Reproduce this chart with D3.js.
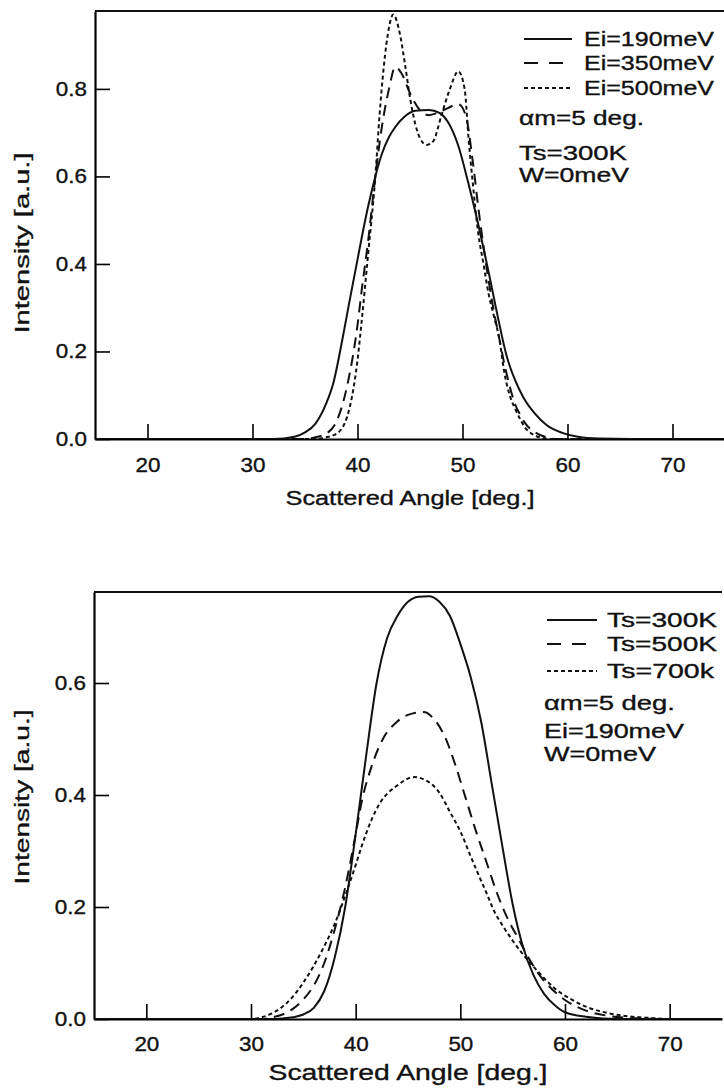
<!DOCTYPE html>
<html>
<head>
<meta charset="utf-8">
<script src="https://cdn.jsdelivr.net/npm/d3@7"></script>
<style>
  body { margin: 0; background: #fff; }
  svg { display: block; }
  text { font-family: "Liberation Sans", Arial, sans-serif; fill: #111; stroke: #111; stroke-width: 0.35px; }
</style>
</head>
<body>
<div id="chart"></div>
<script>
// tick values
const xTicks = [20, 30, 40, 50, 60, 70];
const topYTicks = [0, 0.2, 0.4, 0.6, 0.8];
const botYTicks = [0, 0.2, 0.4, 0.6];

// top panel: incident energy series [angle, intensity]
const ei190 = [[15,0],[32,0],[34,0.005],[35,0.015],[36,0.035],[37,0.08],[37.7,0.128],[38.5,0.22],[39.2,0.31],[40,0.41],[40.4,0.46],[41,0.53],[41.7,0.6],[42.3,0.65],[43,0.69],[43.6,0.713],[44.5,0.737],[45.5,0.75],[46.8,0.752],[47.8,0.745],[48.6,0.725],[49.6,0.67],[50.5,0.59],[51.5,0.49],[52.5,0.38],[53.4,0.275],[54.2,0.19],[55,0.135],[55.8,0.095],[56.9,0.058],[58,0.032],[59.5,0.014],[61,0.005],[63,0.001],[66,0],[75,0]];
const ei350 = [[15,0],[35,0],[36,0.004],[37,0.012],[38,0.04],[39,0.12],[40,0.26],[40.4,0.34],[41,0.45],[41.7,0.6],[42.3,0.71],[43,0.8],[43.6,0.85],[44.2,0.835],[45,0.79],[46,0.75],[46.8,0.74],[47.6,0.745],[48.5,0.755],[49.6,0.765],[50.3,0.74],[51,0.63],[51.5,0.53],[52,0.44],[52.5,0.36],[53,0.29],[53.5,0.23],[54,0.17],[54.5,0.12],[55,0.08],[55.5,0.055],[56,0.035],[57,0.014],[58,0.004],[59,0],[75,0]];
const ei500 = [[15,0],[36,0],[37,0.004],[38,0.012],[39,0.05],[40,0.18],[40.4,0.27],[41,0.42],[41.7,0.6],[42.1,0.74],[42.5,0.85],[43,0.94],[43.4,0.97],[44,0.93],[44.5,0.86],[45,0.78],[45.5,0.72],[46,0.685],[46.6,0.672],[47.2,0.68],[48,0.74],[48.8,0.8],[49.6,0.84],[50.2,0.8],[50.6,0.68],[51,0.58],[51.5,0.47],[52,0.4],[52.5,0.33],[53,0.28],[53.5,0.23],[54,0.15],[54.5,0.1],[55,0.07],[55.5,0.045],[56,0.025],[56.6,0.012],[57.5,0.003],[58.5,0],[75,0]];

// bottom panel: surface temperature series [angle, intensity]
const ts300 = [[15,0],[32,0],[33,0.001],[34,0.003],[35,0.008],[36,0.02],[37,0.05],[38,0.11],[39,0.2],[40,0.33],[41,0.47],[42,0.6],[43,0.68],[44,0.72],[45,0.745],[46,0.754],[47,0.755],[48,0.745],[49,0.72],[50,0.67],[51,0.61],[52,0.53],[53,0.42],[54,0.31],[55,0.205],[56,0.128],[57,0.078],[58,0.045],[59,0.025],[60,0.012],[62,0.004],[65,0],[75,0]];
const ts500 = [[15,0],[31,0],[32,0.003],[33,0.008],[34,0.018],[35,0.035],[36,0.06],[37,0.1],[38,0.16],[39,0.235],[40,0.33],[40.6,0.39],[41.5,0.45],[42.6,0.5],[43.9,0.53],[45,0.543],[46.5,0.548],[47.5,0.535],[48.5,0.505],[49.5,0.455],[50.5,0.395],[51.5,0.335],[52.5,0.28],[53.5,0.225],[54.5,0.18],[55.5,0.145],[56.5,0.11],[57.5,0.08],[58.5,0.058],[60,0.034],[62,0.015],[64,0.006],[66,0.002],[70,0],[75,0]];
const ts700 = [[15,0],[30,0],[31,0.003],[32,0.01],[33,0.022],[34,0.04],[35,0.065],[36,0.095],[37,0.13],[38,0.17],[39,0.22],[40,0.275],[40.6,0.31],[41.5,0.355],[42.3,0.385],[43.9,0.416],[45.6,0.432],[46.5,0.428],[48,0.404],[49,0.37],[50,0.335],[51,0.29],[51.7,0.259],[52.5,0.225],[53.3,0.19],[54,0.168],[55,0.14],[56,0.115],[57.4,0.085],[59,0.055],[60.7,0.034],[62,0.022],[64,0.011],[66,0.005],[68,0.002],[70,0],[75,0]];

// legend / annotation text
const topLabels = ["Ei=190meV", "Ei=350meV", "Ei=500meV"];
const topNotes = ["\u03b1m=5 deg.", "Ts=300K", "W=0meV"];
const botLabels = ["Ts=300K", "Ts=500K", "Ts=700k"];
const botNotes = ["\u03b1m=5 deg.", "Ei=190meV", "W=0meV"];

const width = 724, height = 1091;
const dashes = [null, "11,7", "4,3"];
const legendDashes = [null, "14,11", "4,3"];

const svg = d3.select("#chart").append("svg")
  .attr("width", width)
  .attr("height", height);

function stretchText(g, x, y, str, len, size, anchor) {
  return g.append("text")
    .attr("x", x).attr("y", y)
    .attr("font-size", size)
    .attr("text-anchor", anchor || "start")
    .attr("textLength", len)
    .attr("lengthAdjust", "spacingAndGlyphs")
    .text(str);
}

function drawPanel(p) {
  const x = d3.scaleLinear().domain([15, 75]).range([p.left, p.right]);
  const y = d3.scaleLinear().domain([0, p.yMax]).range([p.bottom, p.top]);
  const g = svg.append("g");

  const clipId = "clip" + p.id;
  svg.append("clipPath").attr("id", clipId)
    .append("rect")
    .attr("x", p.left).attr("y", p.top - 4)
    .attr("width", p.right - p.left).attr("height", p.bottom - p.top + 4);

  // 1. axes
  const xAxis = g.append("g")
    .attr("transform", `translate(0,${p.bottom})`)
    .call(d3.axisBottom(x).tickValues(xTicks).tickSizeInner(-15).tickSizeOuter(0).tickPadding(p.xPad));
  xAxis.select(".domain").attr("stroke-width", 2.2);
  xAxis.selectAll(".tick line").attr("stroke-width", 1.6);
  xAxis.selectAll("text").attr("font-size", 19.5).attr("fill", "#111")
    .attr("transform", "scale(1.15,1)");

  const yAxis = g.append("g")
    .attr("transform", `translate(${p.left},0)`)
    .call(d3.axisLeft(y).tickValues(p.yTicks).tickFormat(d3.format(".1f"))
      .tickSizeInner(-15).tickSizeOuter(0).tickPadding(7));
  yAxis.select(".domain").attr("stroke-width", 2.2);
  yAxis.selectAll(".tick line").attr("stroke-width", 1.6);
  yAxis.selectAll("text").attr("font-size", 19.5).attr("fill", "#111")
    .attr("transform", "scale(1.15,1)");

  // top frame line
  g.append("line")
    .attr("x1", p.left).attr("x2", p.right)
    .attr("y1", p.top).attr("y2", p.top)
    .attr("stroke", "#111").attr("stroke-width", 2);

  // axis titles
  stretchText(g, x(45), p.xLabelY, "Scattered Angle [deg.]", p.xLabelLen, p.xLabelSize, "middle");
  stretchText(g, 0, 0, "Intensity [a.u.]", p.yLabelLen, 20, "middle")
    .attr("transform", `translate(29,${p.yLabelY}) rotate(-90)`);

  // 2. curves
  const line = d3.line()
    .x(d => x(d[0]))
    .y(d => y(d[1]))
    .curve(d3.curveMonotoneX);

  p.series.forEach((s, i) => {
    g.append("path")
      .datum(s)
      .attr("clip-path", `url(#${clipId})`)
      .attr("fill", "none")
      .attr("stroke", "#111")
      .attr("stroke-width", 2)
      .attr("stroke-dasharray", dashes[i])
      .attr("d", line);
  });

  // 3. legend
  p.labels.forEach((lab, i) => {
    const ly = p.legRows[i];
    g.append("line")
      .attr("x1", p.legX1).attr("x2", p.legX2)
      .attr("y1", ly).attr("y2", ly)
      .attr("stroke", "#111").attr("stroke-width", 2)
      .attr("stroke-dasharray", legendDashes[i]);
    stretchText(g, p.legTextX, ly + 7, lab, p.legLens[i], 20);
  });
  p.notes.forEach((n, i) => {
    stretchText(g, p.noteX, p.noteRows[i] + 7, n, p.noteLens[i], 20);
  });
}

drawPanel({
  id: "top", left: 95, right: 725, top: 11, bottom: 439, yMax: 0.978,
  yTicks: topYTicks, xPad: 19,
  series: [ei190, ei350, ei500],
  labels: topLabels, notes: topNotes,
  legRows: [39, 63, 88], legX1: 524, legX2: 572, legTextX: 584, legLens: [130, 130, 130],
  noteX: 519, noteRows: [118, 153, 175], noteLens: [125, 108, 110],
  xLabelY: 505, xLabelLen: 249, xLabelSize: 20,
  yLabelY: 243, yLabelLen: 181
});

drawPanel({
  id: "bot", left: 94, right: 722, top: 592, bottom: 1019, yMax: 0.7625,
  yTicks: botYTicks, xPad: 18,
  series: [ts300, ts500, ts700],
  labels: botLabels, notes: botNotes,
  legRows: [620, 644, 671], legX1: 547, legX2: 597, legTextX: 607, legLens: [110, 110, 107],
  noteX: 544, noteRows: [703, 731, 754], noteLens: [131, 140, 112],
  xLabelY: 1080, xLabelLen: 279, xLabelSize: 22,
  yLabelY: 797, yLabelLen: 175
});
</script>
</body>
</html>
